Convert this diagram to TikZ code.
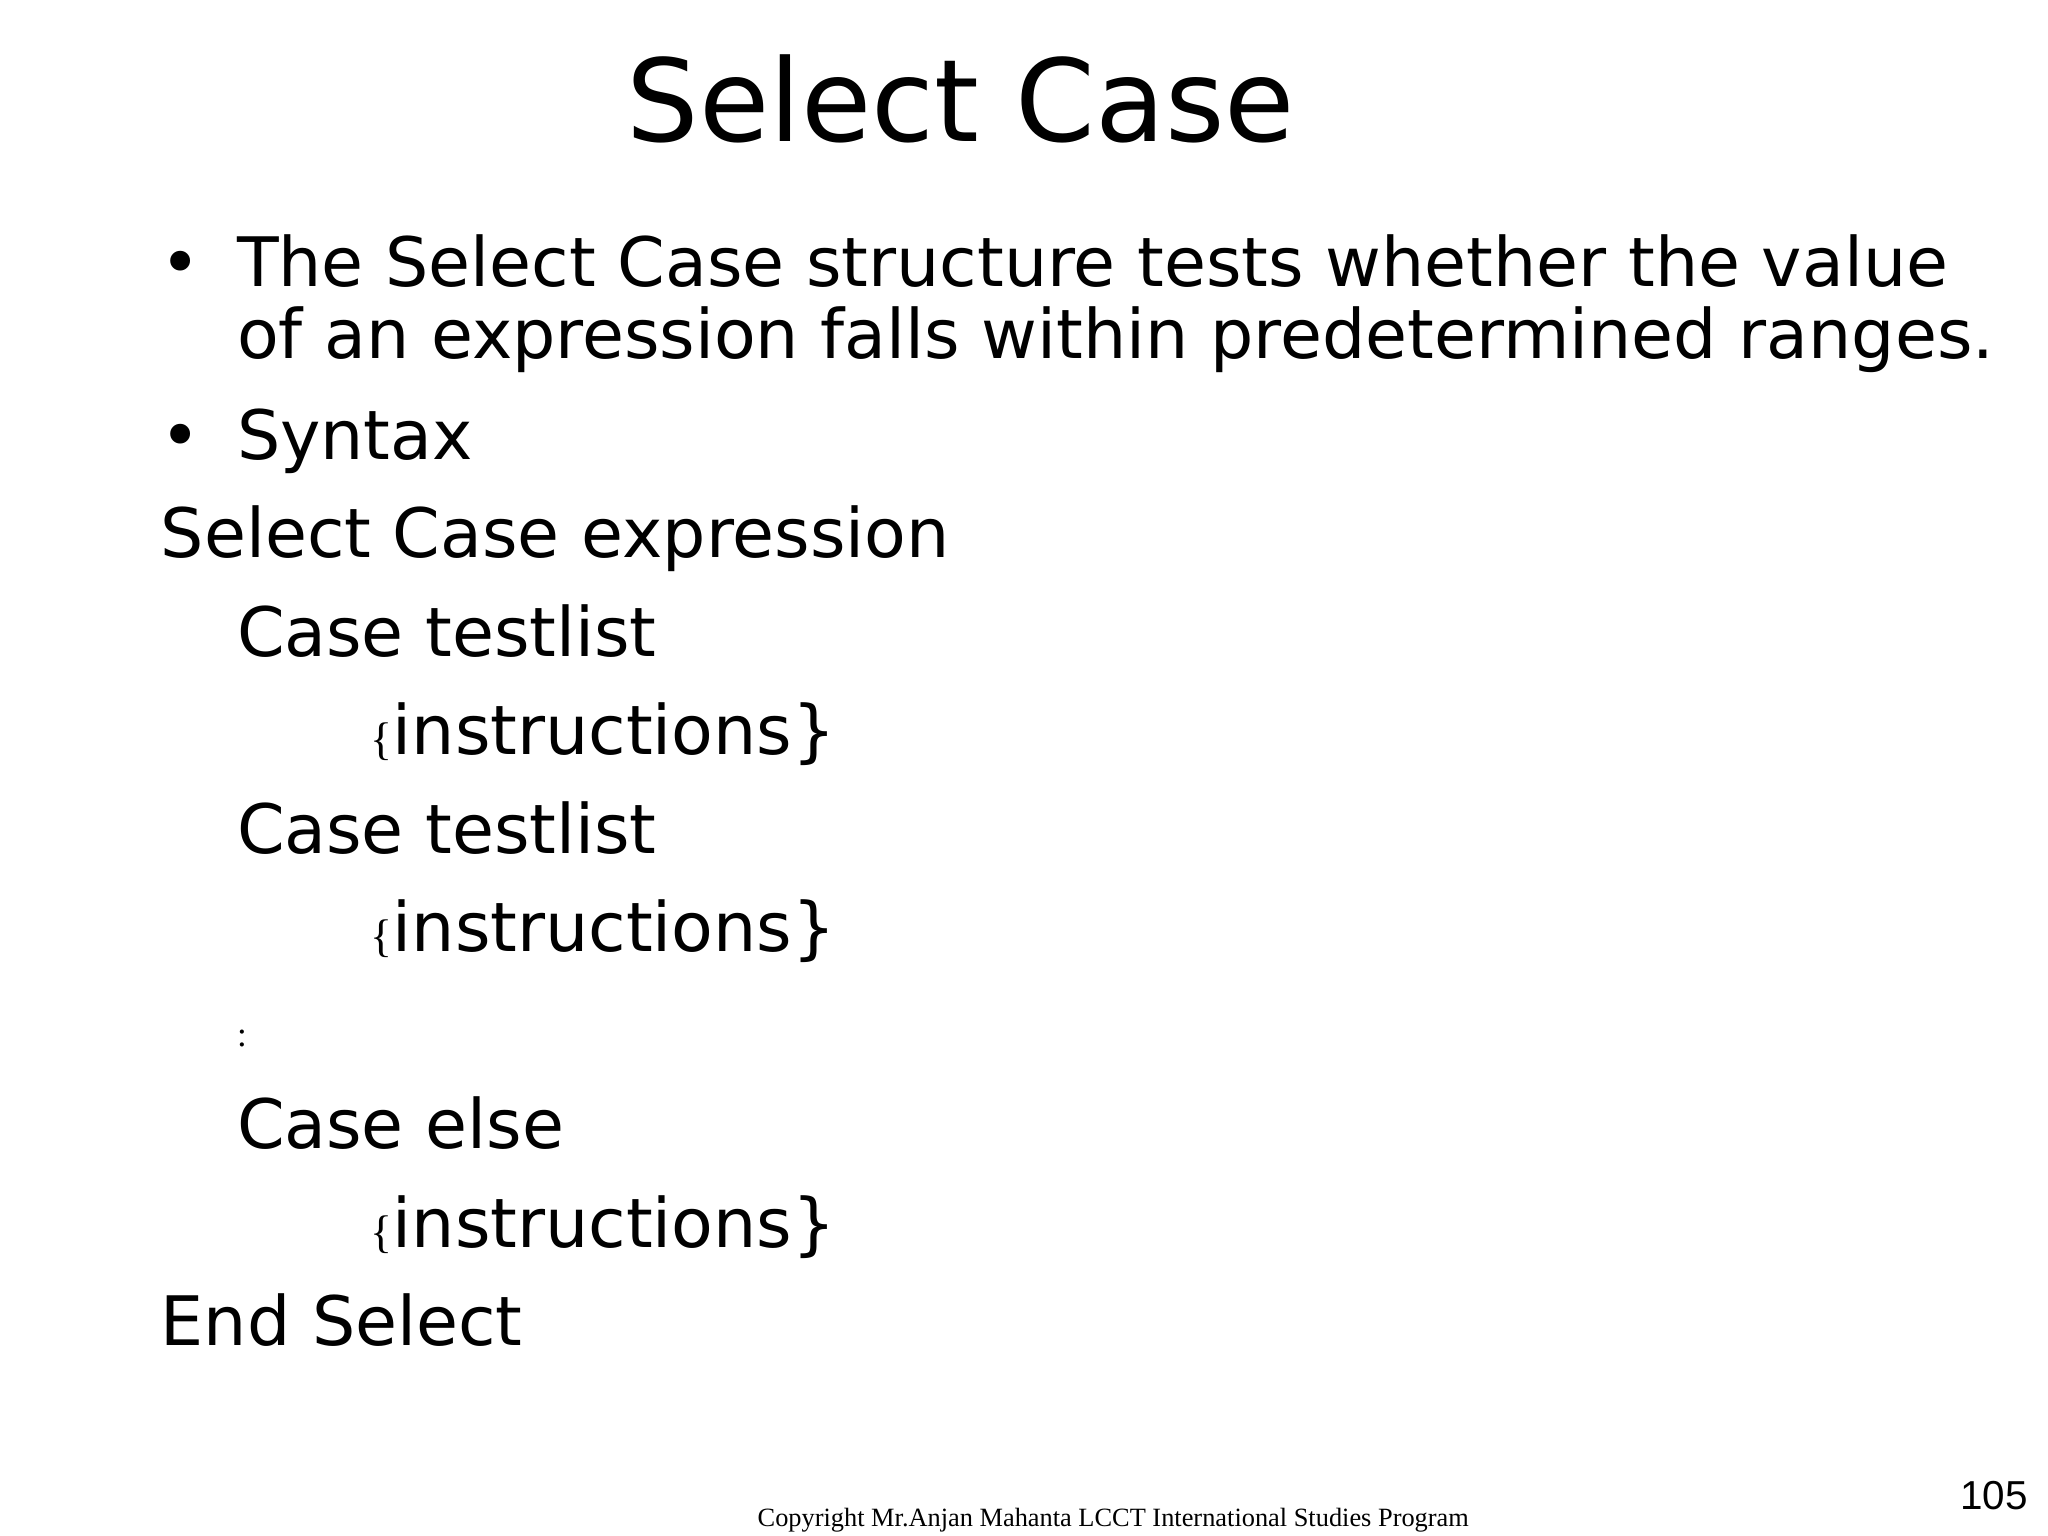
\documentclass[tikz,border=0pt]{standalone}
\usepackage{fontspec}
\setmainfont{DejaVu Sans}
\newfontfamily\serifx{Liberation Serif}
\newfontfamily\sansx{Liberation Sans}
\begin{document}
\begin{tikzpicture}[x=0.01313cm,y=-0.01313cm,
  txt/.style={anchor=base west,inner sep=0pt,font=\fontsize{19.4}{24}\selectfont}]
\useasboundingbox (0,0) rectangle (1560,1170);
\node[anchor=base,inner sep=0pt,font=\fontsize{32.5}{38}\selectfont] (title) at (732,108) {Select Case};
\node[txt] (b1) at (122,218) {•};
\node[txt] (l1) at (180,218) {The Select Case structure tests whether the value};
\node[txt] (l2) at (180,273) {of an expression falls within predetermined ranges.};
\node[txt] (b2) at (122,350) {•};
\node[txt] (l3) at (180,350) {Syntax};
\node[txt] (s1) at (122,425) {Select Case expression};
\node[txt] (s2) at (180,500) {Case testlist};
\node[txt] (s3) at (282,575) {{\serifx\fontsize{13}{14}\selectfont\{}instructions\}};
\node[txt] (s4) at (180,650) {Case testlist};
\node[txt] (s5) at (282,725) {{\serifx\fontsize{13}{14}\selectfont\{}instructions\}};
\node[txt,font=\serifx\fontsize{10}{12}\selectfont] (s6) at (180,797) {:};
\node[txt] (s7) at (180,875) {Case else};
\node[txt] (s8) at (282,950) {{\serifx\fontsize{13}{14}\selectfont\{}instructions\}};
\node[txt] (s9) at (122,1025) {End Select};
\node[anchor=base,inner sep=0pt,font=\serifx\fontsize{7.5}{10}\selectfont] (copy) at (848,1163) {Copyright Mr.Anjan Mahanta LCCT International Studies Program};
\node[anchor=base east,inner sep=0pt,font=\sansx\fontsize{11.5}{13}\selectfont] (pg) at (1545,1150) {105};
\end{tikzpicture}
\end{document}
